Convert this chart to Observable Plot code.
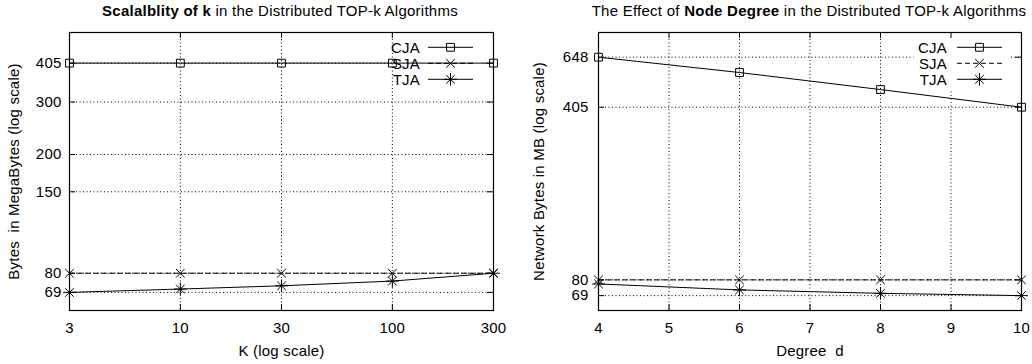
<!DOCTYPE html>
<html><head><meta charset="utf-8">
<script src="https://cdn.jsdelivr.net/npm/d3@7"></script>
<script src="https://cdn.jsdelivr.net/npm/@observablehq/plot@0.6"></script>
<style>
body{margin:0;background:#fff;}
#wrap{position:relative;width:1032px;height:364px;font-family:"Liberation Sans",Arial,sans-serif;color:#000;}
.panel{position:absolute;top:0;width:516px;height:364px;}
.title{position:absolute;top:2px;width:440px;text-align:center;font-size:15px;letter-spacing:0.25px;white-space:nowrap;}
</style></head>
<body>
<div id="wrap">
  <div class="panel" id="p1" style="left:0"><div class="title" style="left:60px"><b>Scalalblity of k</b> in the Distributed TOP-k Algorithms</div></div>
  <div class="panel" id="p2" style="left:516px"><div class="title" style="left:73px">The Effect of <b>Node Degree</b> in the Distributed TOP-k Algorithms</div></div>
</div>
<script>
// ---- data (left panel) ----
const leftK = [3, 10, 30, 100, 300];
const leftCJA = [405, 405, 405, 405, 405];
const leftSJA = [80, 80, 80, 80, 80];
const leftTJA = [69, 70.8, 72.6, 75.3, 80];
const leftXTicks = [3, 10, 30, 100, 300];
const leftYTicks = [69, 80, 150, 200, 300, 405];
// ---- data (right panel) ----
const rightD = [4, 6, 8, 10];
const rightCJA = [648, 561, 478, 405];
const rightSJA = [80, 80, 80, 80];
const rightTJA = [77, 72.8, 70.5, 69];
const rightXTicks = [4, 5, 6, 7, 8, 9, 10];
const rightYTicks = [69, 80, 405, 648];
const seriesNames = ["CJA", "SJA", "TJA"];

function rows(xs, ys) { return xs.map((x, i) => ({x, y: ys[i]})); }

const FONT = '"Liberation Sans", Arial, sans-serif';
const DOT = "1,2.5";

function makePanel(cfg) {
  const {mount, width, mL, mR, mT, mB, xOpt, yOpt, xTicks, yTicks, cja, sja, tja, xLabel, yLabel, yPad, yLabOff, key} = cfg;
  const H = 364;
  const pw = width - mL - mR, ph = H - mT - mB;
  const xIn = xTicks.slice(1, -1);
  const marks = [
    Plot.ruleX(xIn, {stroke: "black", strokeDasharray: DOT, strokeWidth: 1}),
    Plot.ruleY(yTicks, {stroke: "black", strokeDasharray: DOT, strokeWidth: 1}),
    Plot.frame({fill: "white", stroke: null, insetLeft: key.x0 - mL, insetRight: mL + pw - key.x1, insetBottom: mT + ph - key.y1}),
    Plot.tickX(xTicks, {insetTop: ph - 6, stroke: "black"}),
    Plot.tickX(xTicks, {insetBottom: ph - 6, stroke: "black"}),
    Plot.tickY(yTicks, {insetRight: pw - 6, stroke: "black"}),
    Plot.tickY(yTicks, {insetLeft: pw - 6, stroke: "black"}),
    Plot.frame({stroke: "black", strokeWidth: 1.2}),
    Plot.axisX({ticks: xTicks, tickSize: 0, tickPadding: 12, tickFormat: d => String(d), label: xLabel, labelAnchor: "center", labelOffset: 45, labelArrow: "none"}),
    Plot.axisY({ticks: yTicks, tickSize: 0, tickPadding: yPad, tickFormat: d => String(d), label: yLabel, labelAnchor: "center", labelOffset: yLabOff, labelArrow: "none"}),
    Plot.line(cja, {x: "x", y: "y", stroke: "black", strokeWidth: 1}),
    Plot.line(sja, {x: "x", y: "y", stroke: "black", strokeWidth: 1, strokeDasharray: "5,3"}),
    Plot.line(tja, {x: "x", y: "y", stroke: "black", strokeWidth: 1}),
    Plot.dot(cja, {x: "x", y: "y", symbol: "square", r: 4.4, stroke: "black", fill: "none", strokeWidth: 1}),
    Plot.dot(sja, {x: "x", y: "y", symbol: "times", r: 4, stroke: "black", strokeWidth: 1}),
    Plot.dot(tja, {x: "x", y: "y", symbol: "times", r: 4, stroke: "black", strokeWidth: 1}),
    Plot.dot(tja, {x: "x", y: "y", symbol: "plus", r: 4.2, stroke: "black", strokeWidth: 1})
  ];
  const svg = Plot.plot({
    width, height: H, marginLeft: mL, marginRight: mR, marginTop: mT, marginBottom: mB,
    style: {fontFamily: FONT, fontSize: "15px", letterSpacing: "0.2px", color: "black", background: "transparent", overflow: "visible"},
    x: xOpt, y: yOpt, marks
  });
  svg.style.position = "absolute";
  svg.style.left = "0px";
  svg.style.top = "0px";
  // legend (key)
  const g = d3.select(svg).append("g").attr("font-family", FONT).attr("font-size", "15px");
  const styles = [
    {dash: null, syms: [[d3.symbolSquare, 4.4]]},
    {dash: "5,3", syms: [[d3.symbolTimes, 4]]},
    {dash: null, syms: [[d3.symbolTimes, 4], [d3.symbolPlus, 4.2]]}
  ];
  seriesNames.forEach((name, i) => {
    const y = key.rowY + i * 16;
    g.append("text").attr("x", key.textX).attr("y", y).attr("dy", "0.36em").attr("text-anchor", "end").text(name);
    g.append("line").attr("x1", key.l0).attr("x2", key.l1).attr("y1", y).attr("y2", y)
      .attr("stroke", "black").attr("stroke-dasharray", styles[i].dash);
    styles[i].syms.forEach(([sym, r]) => {
      g.append("path").attr("d", d3.symbol(sym, Math.PI * r * r)()).attr("transform", `translate(${(key.l0 + key.l1) / 2},${y})`)
        .attr("fill", "none").attr("stroke", "black");
    });
  });
  document.getElementById(mount).appendChild(svg);
}

makePanel({
  mount: "p1", width: 516, mL: 69, mR: 23, mT: 32, mB: 54,
  xOpt: {type: "log", domain: [3, 300]},
  yOpt: {type: "log", domain: [60, 513]},
  xTicks: leftXTicks, yTicks: leftYTicks,
  cja: rows(leftK, leftCJA), sja: rows(leftK, leftSJA), tja: rows(leftK, leftTJA),
  xLabel: "K (log scale)", yLabel: "Bytes  in MegaBytes (log scale)", yPad: 8, yLabOff: 61,
  key: {x0: 394, x1: 482, y1: 88, rowY: 47.3, textX: 420, l0: 428, l1: 473}
});
makePanel({
  mount: "p2", width: 516, mL: 82, mR: 11, mT: 32, mB: 54,
  xOpt: {type: "linear", domain: [4, 10]},
  yOpt: {type: "log", domain: [60, 817]},
  xTicks: rightXTicks, yTicks: rightYTicks,
  cja: rows(rightD, rightCJA), sja: rows(rightD, rightSJA), tja: rows(rightD, rightTJA),
  xLabel: "Degree  d", yLabel: "Network Bytes in MB (log scale)", yPad: 10, yLabOff: 65,
  key: {x0: 913 - 516, x1: 1010 - 516, y1: 90, rowY: 47.3, textX: 947 - 516, l0: 957 - 516, l1: 1002 - 516}
});
</script>
</body></html>
